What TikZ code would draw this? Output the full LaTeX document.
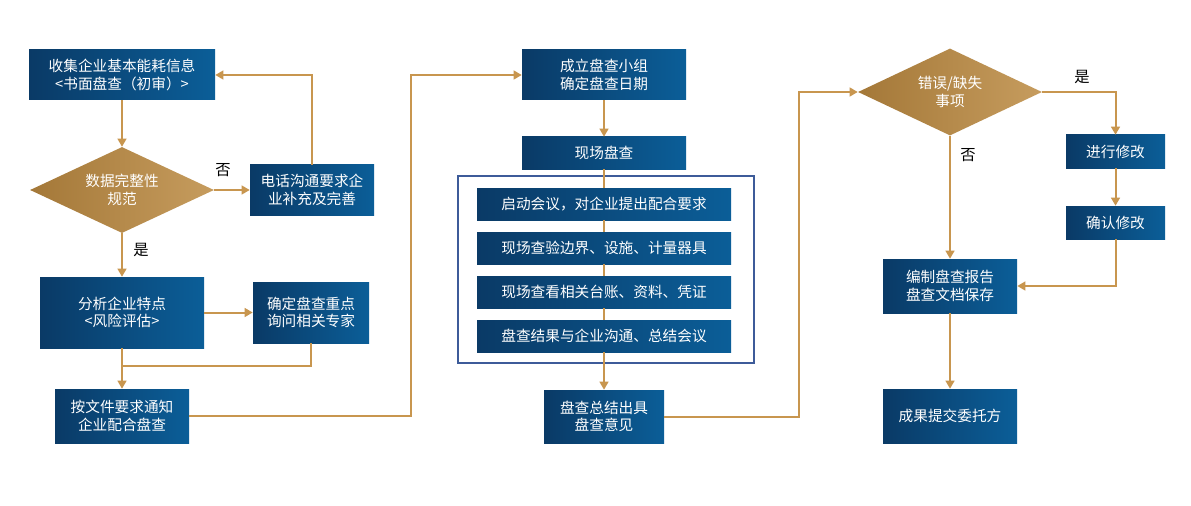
\documentclass[tikz,border=0pt]{standalone}
\usepackage{fontspec}
\newfontfamily\cjk{Noto Sans CJK SC}
\usetikzlibrary{shapes.geometric,arrows.meta,calc}
\definecolor{navyA}{HTML}{0A3A66}
\definecolor{navyB}{HTML}{0B5E98}
\definecolor{goldA}{HTML}{A47838}
\definecolor{goldB}{HTML}{C69C5E}
\definecolor{linkc}{HTML}{C8964F}
\definecolor{framec}{HTML}{3D5B99}
\tikzset{
  sz/.style 2 args={minimum width={#1*0.75pt}, minimum height={#2*0.75pt}},
  box/.style={draw=none, left color=navyA, right color=navyB, text=white,
    inner sep=0pt, align=center, font=\cjk\fontsize{11}{13}\selectfont},
  dec/.style={diamond, aspect=2.1, draw=none, left color=goldA, right color=goldB, text=white,
    inner sep=0pt, align=center, font=\cjk\fontsize{11}{13}\selectfont},
  conn/.style={draw=linkc, line width=1.5pt, -{Triangle[length=6pt,width=6.5pt]}},
  plain/.style={draw=linkc, line width=1.5pt},
  lab/.style={font=\cjk\fontsize{11.5}{13}\selectfont, text=black, inner sep=0pt},
  framebox/.style={draw=framec, line width=2pt, inner sep=0pt}
}
\begin{document}
\begin{tikzpicture}[x=0.75pt,y=-0.75pt]
\useasboundingbox (0,0) rectangle (1191,506);
\fill[white] (0,0) rectangle (1191,506);
% column 1
\node[box, sz={186}{50}] (A) at (122,75) {收集企业基本能耗信息\\<书面盘查（初审）>};
\node[dec, sz={184}{86}] (D1) at (122,190) {数据完整性\\规范};
\node[box, sz={124}{50}] (B) at (312,190) {电话沟通要求企\\业补充及完善};
\node[box, sz={164}{71}] (C) at (122,312.5) {分析企业特点\\<风险评估>};
\node[box, sz={116}{61}] (Dq) at (311,312.5) {确定盘查重点\\询问相关专家};
\node[box, sz={134}{54}] (E) at (122,416) {按文件要求通知\\企业配合盘查};
\node[lab] (no1) at (223,170) {否};
\node[lab] (yes1) at (141,250) {是};
\coordinate (j1) at (122,366);
\coordinate (k1) at (411,416);
% column 2
\node[box, sz={164}{50}] (F) at (604,75) {成立盘查小组\\确定盘查日期};
\node[box, sz={164}{32}] (G) at (604,153) {现场盘查};
\node[framebox, sz={296}{187}] (fr) at (606,269.5) {};
\node[box, sz={254}{32}] (S1) at (604,204) {启动会议，对企业提出配合要求};
\node[box, sz={254}{32}] (S2) at (604,248) {现场查验边界、设施、计量器具};
\node[box, sz={254}{32}] (S3) at (604,292) {现场查看相关台账、资料、凭证};
\node[box, sz={254}{32}] (S4) at (604,336) {盘查结果与企业沟通、总结会议};
\node[box, sz={120}{53}] (H) at (604,416.5) {盘查总结出具\\盘查意见};
\coordinate (k2) at (799,416.5);
% column 3
\node[dec, sz={184}{87}] (D2) at (950,92) {错误/缺失\\事项};
\node[box, sz={99}{33}] (I) at (1115.5,151.5) {进行修改};
\node[box, sz={99}{33}] (J) at (1115.5,222.5) {确认修改};
\node[box, sz={134}{54}] (K) at (950,286) {编制盘查报告\\盘查文档保存};
\node[box, sz={134}{54}] (L) at (950,416) {成果提交委托方};
\node[lab] (yes2) at (1082,77) {是};
\node[lab] (no2) at (968,155) {否};
% connectors
\draw[conn] (A.south) -- (D1.north);
\draw[conn] (D1.east) -- (B.west);
\draw[conn] (B.north) |- (A.east);
\draw[conn] (D1.south) -- (C.north);
\draw[conn] (C.east) -- (Dq.west);
\draw[plain] (Dq.south) |- (j1);
\draw[conn] (C.south) -- (E.north);
\draw[conn] (E.east) -- (k1) |- (F.west);
\draw[conn] (F.south) -- (G.north);
\draw[plain] (G.south) -- (S1.north);
\draw[plain] (S1.south) -- (S2.north);
\draw[plain] (S2.south) -- (S3.north);
\draw[plain] (S3.south) -- (S4.north);
\draw[conn] (S4.south) -- (H.north);
\draw[conn] (H.east) -- (k2) |- (D2.west);
\draw[conn] (D2.east) -| (I.north);
\draw[conn] (I.south) -- (J.north);
\draw[conn] (J.south) |- (K.east);
\draw[conn] (D2.south) -- (K.north);
\draw[conn] (K.south) -- (L.north);
\end{tikzpicture}
\end{document}
